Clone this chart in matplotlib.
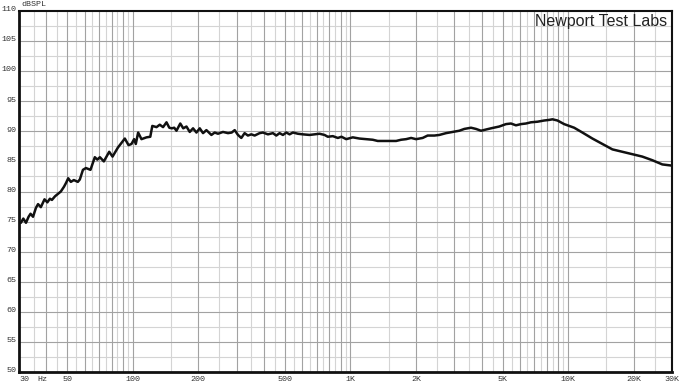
import numpy as np
import matplotlib
matplotlib.use('Agg')
import matplotlib.pyplot as plt

# 주파수 응답 데이터
freq = [30, 30.6, 31.4, 32.3, 33.2, 33.9, 34.8, 35.9, 36.7, 37.8, 39.3, 40.5,
        41.6, 42.5, 43.9, 45.3, 46.7, 48.3, 49.3, 50.5, 51.9, 53.6, 55.9, 57.1,
        59.0, 60.9, 63.9, 66.9, 68.7, 70.6, 73.6, 77.9, 80.7, 85.4, 91.9, 95.6,
        98.6, 101.4, 103.2, 105.8, 109.6, 115.6, 120.3, 122.9, 128.5, 133.0,
        137.7, 142.8, 147.1, 151.0, 155.0, 158.7, 165.2, 170.5, 176.4, 182.6,
        189.1, 196.0, 203.0, 210.2, 217.8, 229.6, 237.8, 246.2, 259.6, 273.6,
        284.6, 293.8, 304.2, 315.1, 326.3, 337.9, 350.3, 362.8, 382.4, 396.0,
        417.6, 440.2, 456.3, 472.5, 489.3, 507.2, 525.1, 543.8, 573.3, 604.3,
        648.6, 683.8, 720.8, 760.0, 786.8, 829.4, 874.5, 909.4, 955.7, 1025,
        1100, 1181, 1266, 1334, 1432, 1537, 1621, 1708, 1801, 1899, 2001, 2146,
        2262, 2429, 2561, 2748, 2947, 3162, 3334, 3578, 3772, 3977, 4193, 4420,
        4826, 5180, 5461, 5757, 6070, 6397, 6744, 7232, 7761, 8183, 8472, 8933,
        9587, 10656, 11630, 12930, 14370, 15970, 17750, 19720, 21920, 24360,
        27080, 30000]
spl = [74.9, 74.8, 75.5, 74.8, 75.8, 76.3, 75.8, 77.3, 77.9, 77.4, 78.7, 78.2,
       78.8, 78.6, 79.2, 79.6, 80.0, 80.8, 81.4, 82.2, 81.6, 81.9, 81.6, 82.0,
       83.6, 83.9, 83.6, 85.7, 85.3, 85.7, 85.0, 86.6, 85.8, 87.3, 88.8, 87.7,
       87.9, 88.7, 87.9, 89.8, 88.7, 89.0, 89.1, 90.9, 90.7, 91.1,
       90.7, 91.5, 90.6, 90.5, 90.6, 90.1, 91.3, 90.5, 90.8, 89.9,
       90.5, 89.8, 90.5, 89.7, 90.2, 89.4, 89.8, 89.6, 89.9, 89.7,
       89.8, 90.2, 89.4, 88.9, 89.7, 89.3, 89.5, 89.3, 89.7, 89.8,
       89.5, 89.7, 89.3, 89.7, 89.4, 89.8, 89.5, 89.8, 89.6, 89.5,
       89.4, 89.5, 89.6, 89.4, 89.1, 89.2, 88.9, 89.1, 88.7, 89.0,
       88.8, 88.7, 88.6, 88.4, 88.4, 88.4, 88.4, 88.6, 88.7, 88.9, 88.7, 88.9,
       89.3, 89.3, 89.4, 89.7, 89.9, 90.1, 90.4, 90.6, 90.4, 90.1, 90.3, 90.5,
       90.8, 91.2, 91.3, 91.0, 91.2, 91.3, 91.5, 91.6, 91.8, 91.9, 92.0, 91.8,
       91.2, 90.6, 89.8, 88.8, 87.9, 87.0, 86.6, 86.2, 85.8, 85.2,
       84.5, 84.3]

# 눈금 라벨
x_ticks = [50, 100, 200, 500, 1000, 2000, 5000, 10000, 20000, 30000]
x_labels = ['50', '100', '200', '500', '1K', '2K', '5K', '10K', '20K', '30K']
y_ticks = [50, 55, 60, 65, 70, 75, 80, 85, 90, 95, 100, 105, 110]

mono = 'Liberation Mono'

fig = plt.figure(figsize=(6.8, 3.89), dpi=100)
ax = fig.add_axes([19/680, 17/389, 653/680, 361/389])
ax.set_xscale('log')
ax.set_xlim(30, 30000)
ax.set_ylim(50, 110)

# 격자선 - 정수배는 진하게, 반 단계는 연하게
for dec in [10, 100, 1000, 10000]:
    for m in range(1, 10):
        f = m * dec
        if 30 < f < 30000:
            ax.axvline(f, color='#a2a2a2', lw=0.8, zorder=1)
        fh = (m + 0.5) * dec
        if 30 < fh < 30000:
            ax.axvline(fh, color='#d4d4d4', lw=0.8, zorder=0.5)
for v in y_ticks[1:-1]:
    ax.axhline(v, color='#a2a2a2', lw=0.8, zorder=1)
for v in y_ticks[:-1]:
    ax.axhline(v + 2.5, color='#d4d4d4', lw=0.8, zorder=0.5)

ax.plot(freq, spl, color='#111111', lw=1.8, zorder=3)

ax.set_xticks([])
ax.set_yticks([])
ax.minorticks_off()
for s in ['left', 'bottom']:
    ax.spines[s].set_linewidth(2.0)
for s in ['top', 'right']:
    ax.spines[s].set_linewidth(1.5)
for s in ax.spines.values():
    s.set_color('#111111')
    s.set_zorder(5)

ytr = ax.get_yaxis_transform()
for v in y_ticks:
    ax.text(-0.004, v + 0.2, str(v), transform=ytr, ha='right', va='center',
            fontsize=6, family=mono, color='#333333')

xtr = ax.get_xaxis_transform()
ax.text(30, -0.022, '30', transform=xtr, ha='left', va='center',
        fontsize=6, family=mono, color='#333333')
ax.text(38.5, -0.022, 'Hz', transform=xtr, ha='center', va='center',
        fontsize=6, family=mono, color='#333333')
for f, lab in zip(x_ticks, x_labels):
    ax.text(f, -0.022, lab, transform=xtr, ha='center', va='center',
            fontsize=6, family=mono, color='#333333')

fig.text(21/680, 1 - 4/389, 'dBSPL', ha='left', va='center',
         fontsize=6, family=mono, color='#333333')
ax.text(0.992, 0.991, 'Newport Test Labs', transform=ax.transAxes,
        ha='right', va='top', fontsize=11.5, family='Liberation Sans',
        color='#222222', zorder=4)

plt.savefig('out.png', dpi=100)
